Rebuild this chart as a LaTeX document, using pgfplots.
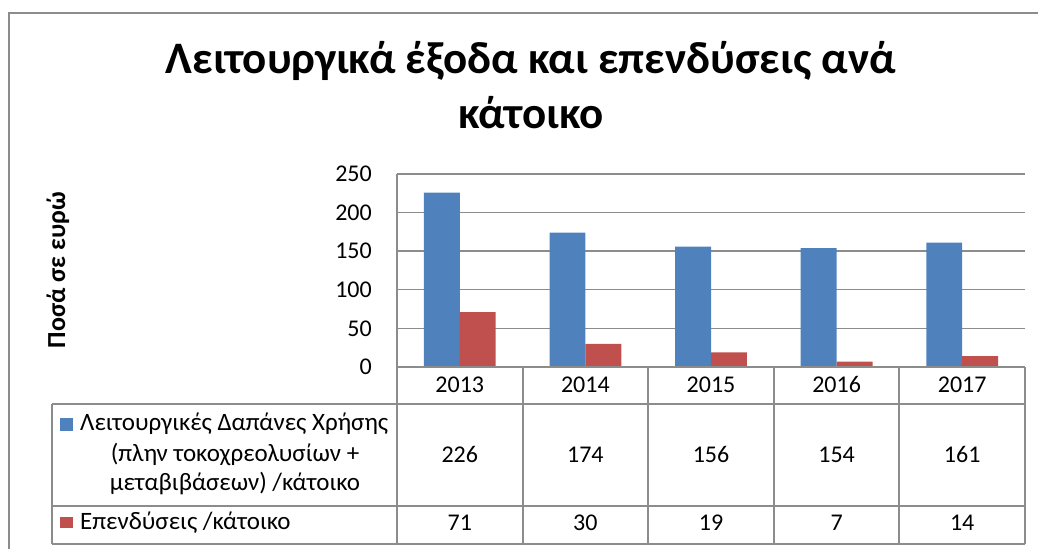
\documentclass[border=0pt]{standalone}
\usepackage{fontspec}
\setmainfont{Carlito}
\usepackage{pgfplots}
\usepackage{pgfplotstable}
\pgfplotsset{compat=1.18}
\definecolor{barblue}{HTML}{4F81BD}
\definecolor{barred}{HTML}{C0504D}
\definecolor{linegray}{HTML}{8C8C8C}
\pgfplotstableread{
x year ops inv
0 2013 226 71
1 2014 174 30
2 2015 156 19
3 2016 154 7
4 2017 161 14
}\datatable
\newcommand{\tfont}{\fontsize{24bp}{29bp}\selectfont}
\newcommand{\lfont}{\fontsize{25bp}{30bp}\selectfont}
\begin{document}
\begin{tikzpicture}
\begin{scope}[x=1bp,y=1bp]
\path[use as bounding box] (0,0) rectangle (1038,549);
\draw[linegray, line width=1.6bp] (9,-5) -- (9,536) -- (1045,536);
\end{scope}
\begin{axis}[at={(397bp,182bp)}, anchor=south west, scale only axis,
  width=628bp, height=193bp,
  xmin=-0.5, xmax=4.5, ymin=0, ymax=250,
  ybar=0pt, bar width=35.9bp,
  axis x line=none, axis y line*=left,
  axis line style={linegray, line width=1.6bp},
  xtick=\empty, ytick={0,50,...,250},
  ymajorgrids, grid style={linegray, line width=1.4bp},
  major tick length=0pt,
  yticklabel style={font=\tfont, anchor=east, inner sep=0pt, xshift=-25bp},
  /pgf/number format/assume math mode=true,
  clip=false]
\addplot[fill=barblue, draw=none] table[x=x,y=ops]{\datatable};
\addplot[fill=barred, draw=none] table[x=x,y=inv]{\datatable};
\end{axis}
\begin{scope}[x=1bp,y=1bp]
% title
\node[anchor=base, inner sep=0pt, font=\fontsize{45bp}{52bp}\selectfont\bfseries] at (531,475) {Λειτουργικά έξοδα και επενδύσεις ανά};
\node[anchor=base, inner sep=0pt, font=\fontsize{45bp}{52bp}\selectfont\bfseries] at (531,420) {κάτοικο};
% y label
\node[rotate=90, inner sep=0pt, font=\fontsize{26bp}{30bp}\selectfont\bfseries] at (58,279) {Ποσά σε ευρώ};
% table lines
\draw[linegray, line width=1.6bp] (397,182) -- (1025,182);
\draw[linegray, line width=1.6bp] (52,145) -- (1025,145);
\draw[linegray, line width=1.6bp] (52,43) -- (1025,43);
\draw[linegray, line width=1.6bp] (52,5) -- (1025,5);
\draw[linegray, line width=1.6bp] (52,145) -- (52,5);
\draw[linegray, line width=1.6bp] (397,182) -- (397,5);
\foreach \xx in {523,648,774,899,1025} {\draw[linegray, line width=1.6bp] (\xx,182) -- (\xx,5);}
% table texts
\foreach \i/\yr/\a/\b in {0/2013/226/71,1/2014/174/30,2/2015/156/19,3/2016/154/7,4/2017/161/14} {
  \pgfmathsetmacro{\cx}{397+(\i+0.5)*125.6}
  \node[anchor=base, font=\tfont, inner sep=0pt] at (\cx,156) {\yr};
  \node[anchor=base, font=\tfont, inner sep=0pt] at (\cx,86) {\a};
  \node[anchor=base, font=\tfont, inner sep=0pt] at (\cx,18) {\b};
}
% legend cells
\fill[barblue] (60,118) rectangle (73,131);
\node[anchor=base west, font=\lfont, inner sep=0pt] at (80,118) {Λειτουργικές Δαπάνες Χρήσης};
\node[anchor=base, font=\lfont, inner sep=0pt] at (235,87) {(πλην τοκοχρεολυσίων +};
\node[anchor=base, font=\lfont, inner sep=0pt] at (235,58) {μεταβιβάσεων) /κάτοικο};
\fill[barred] (60,21) rectangle (73,32);
\node[anchor=base west, font=\lfont, inner sep=0pt] at (80,19) {Επενδύσεις /κάτοικο};
\end{scope}
\end{tikzpicture}
\end{document}
